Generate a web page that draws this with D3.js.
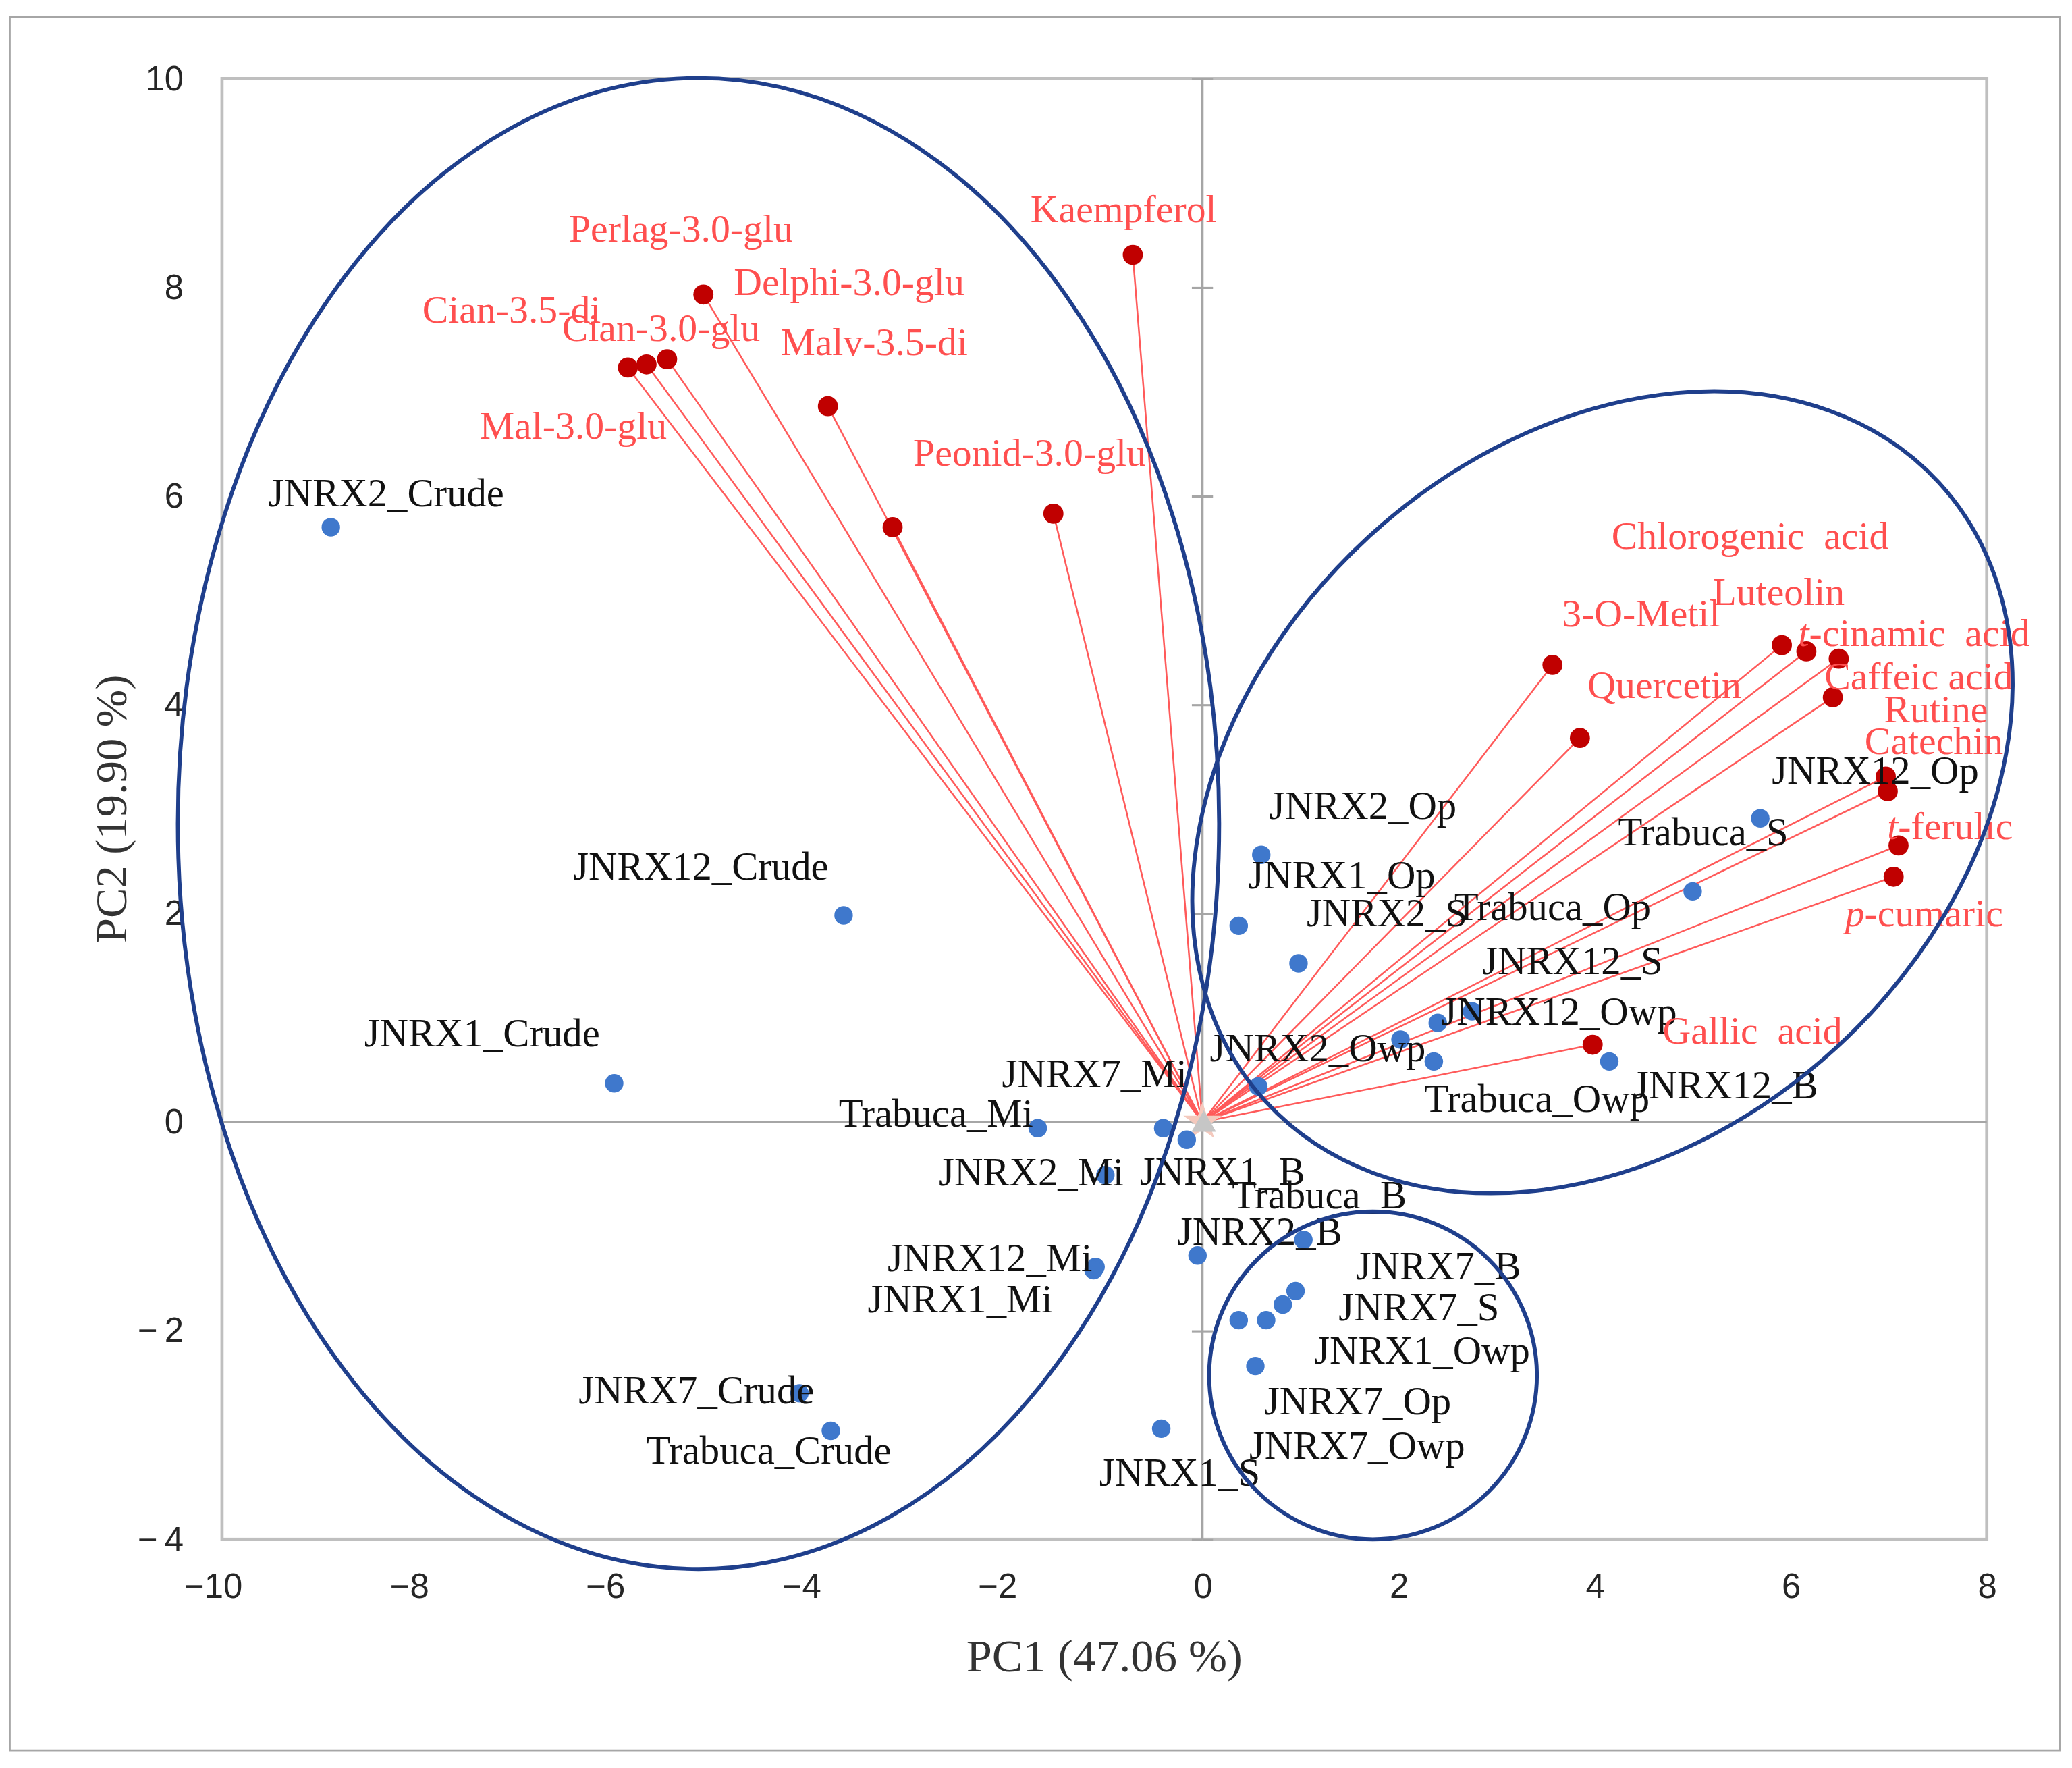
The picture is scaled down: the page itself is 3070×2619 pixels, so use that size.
<!DOCTYPE html>
<html>
<head>
<meta charset="utf-8">
<script src="https://cdn.jsdelivr.net/npm/d3@7"></script>
<style>
html, body { margin: 0; padding: 0; background: #fff; }
</style>
</head>
<body>
<div id="chart"></div>
<script>

// ---- samples (blue) : scores on PC1 / PC2
var sampleNames = ["JNRX2_Crude", "JNRX12_Crude", "JNRX1_Crude", "JNRX7_Crude", "Trabuca_Crude",
	"Trabuca_Mi", "JNRX7_Mi", "JNRX1_B", "JNRX2_Mi", "JNRX12_Mi", "JNRX1_Mi",
	"Trabuca_B", "JNRX2_B", "JNRX7_B", "JNRX7_S", "JNRX1_Owp", "JNRX7_Op", "JNRX7_Owp", "JNRX1_S",
	"JNRX2_Op", "JNRX1_Op", "JNRX2_S", "JNRX12_Op", "Trabuca_S", "Trabuca_Op", "JNRX12_S",
	"JNRX12_Owp", "JNRX2_Owp", "Trabuca_Owp", "JNRX12_B"];
var samplePC1 = [-8.89, -3.66, -6.00, -4.11, -3.79,
	-1.68, -0.40, -0.16, -0.99, -1.09, -1.11,
	1.03, -0.05, 0.95, 0.82, 0.65, 0.37, 0.54, -0.42,
	0.60, 0.37, 0.98, 5.69, 5.00, 2.75, 2.40,
	2.02, 0.57, 2.36, 4.15];
var samplePC2 = [5.70, 1.98, 0.37, -2.60, -2.96,
	-0.06, -0.06, -0.17, -0.51, -1.39, -1.42,
	-1.13, -1.28, -1.62, -1.75, -1.90, -1.90, -2.34, -2.94,
	2.56, 1.88, 1.52, 2.91, 2.21, 1.06, 0.95,
	0.79, 0.34, 0.58, 0.58];

// ---- compounds (red) : loadings on PC1 / PC2
var varNames = ["Kaempferol", "Perlag-3.0-glu", "Delphi-3.0-glu", "Cian-3.5-di", "Cian-3.0-glu",
	"Mal-3.0-glu", "Malv-3.5-di", "Peonid-3.0-glu",
	"3-O-Metil", "Quercetin", "Chlorogenic  acid", "Luteolin", "t-cinamic  acid", "Caffeic acid",
	"Rutine", "Catechin", "t-ferulic", "p-cumaric", "Gallic  acid"];
var varPC1 = [-0.71, -5.09, -3.82, -5.86, -5.67, -5.46, -3.16, -1.52,
	3.57, 3.85, 5.91, 6.16, 6.49, 6.43, 6.97, 6.99, 7.10, 7.05, 3.98];
var varPC2 = [8.31, 7.93, 6.86, 7.23, 7.26, 7.31, 5.70, 5.83,
	4.38, 3.68, 4.57, 4.51, 4.44, 4.07, 3.31, 3.17, 2.65, 2.35, 0.74];

var xTicks = [-10, -8, -6, -4, -2, 0, 2, 4, 6, 8];
var yTicks = [-4, -2, 0, 2, 4, 6, 8, 10];
var xTitle = "PC1 (47.06 %)";
var yTitle = "PC2 (19.90 %)";

// label nudges, in drawing units, from each point to its label centre
var sampleLabelShift = [[42,-26],[-108,-37],[-100,-38],[-78,-2],[-47,15],
	[-77,-11],[-52,-41],[27,24],[-56,-2],[-80,-7],[-101,22],
	[12,-34],[47,-18],[108,-19],[103,2],[118,23],[90,61],[77,60],[14,33],
	[77,-37],[78,-38],[67,-38],[87,-36],[8,-45],[61,-79],[102,-47],
	[120,-21],[45,-29],[78,28],[88,18]];
var varLabelShift = [[-7,-35],[-17,-50],[16,-94],[-88,-44],[11,-28],[-71,50],[-14,-140],[-18,-46],
	[67,-39],[64,-40],[-24,-83],[-21,-45],[57,-20],[65,-16],[38,-51],[35,-38],[39,-15],[23,27],[121,-11]];

// group outlines drawn on the chart: centre in PC units, radii / tilt in drawing units
var groupRings = [
	{pc1: -5.14, pc2: 2.86, rx: 394, ry: 564, tilt: 0},
	{pc1: 4.08, pc2: 3.16, rx: 346, ry: 262, tilt: -42.6},
	{pc1: 1.74, pc2: -2.43, rx: 124, ry: 124, tilt: 0}
];


var W = 1568, H = 1337.6;
var plotL = 168, plotR = 1503.5, plotT = 59.4, plotB = 1164.6;

var svg = d3.select("#chart")
	.append("svg")
	.attr("width", 3070)
	.attr("height", 2619)
	.attr("viewBox", "0 0 " + W + " " + H);

svg.append("rect").attr("width", W).attr("height", H).attr("fill", "#fff");

var x = d3.scaleLinear().domain([-10, 8]).range([plotL, plotR]);
var y = d3.scaleLinear().domain([-4, 10]).range([plotB, plotT]);

var serif = "'Liberation Serif', 'Times New Roman', serif";
var sans = "'Liberation Sans', Arial, sans-serif";

// outer frame
svg.append("rect")
	.attr("x", 7.4).attr("y", 12.8)
	.attr("width", 1558.6 - 7.4).attr("height", 1324.4 - 12.8)
	.attr("fill", "none").attr("stroke", "#a6a6a6").attr("stroke-width", 1.4);

// plot frame
svg.append("rect")
	.attr("x", plotL).attr("y", plotT)
	.attr("width", plotR - plotL).attr("height", plotB - plotT)
	.attr("fill", "none").attr("stroke", "#bfbfbf").attr("stroke-width", 2.4);

// horizontal zero line
svg.append("line")
	.attr("x1", plotL).attr("x2", plotR)
	.attr("y1", y(0)).attr("y2", y(0))
	.attr("stroke", "#a6a6a6").attr("stroke-width", 1.6);

// vertical zero axis with cross ticks
var crossL = svg.append("g").attr("transform", "translate(" + x(0) + ",0)")
	.call(d3.axisLeft(y).tickValues(yTicks).tickSize(8).tickFormat(""));
var crossR = svg.append("g").attr("transform", "translate(" + x(0) + ",0)")
	.call(d3.axisRight(y).tickValues(yTicks).tickSize(8).tickFormat(""));
[crossL, crossR].forEach(function(g) {
	g.selectAll("path,line").attr("stroke", "#a6a6a6").attr("stroke-width", 1.6);
	g.select(".domain").attr("d", "M0," + plotT + "V" + plotB);
});

function fmt(v) {
	return v < 0 ? "\u2212" + Math.abs(v) : "" + v;
}

// y tick labels at the left of the plot
var yAx = svg.append("g").attr("transform", "translate(" + plotL + ",0)")
	.call(d3.axisLeft(y).tickValues(yTicks).tickSize(0).tickPadding(29)
		.tickFormat(function(v) { return v < 0 ? "\u2212\u2009" + Math.abs(v) : "" + v; }));
yAx.select(".domain").remove();
yAx.selectAll("text")
	.attr("font-family", sans).attr("font-size", 26).attr("fill", "#262626");

// x tick labels under the plot
var xAx = svg.append("g").attr("transform", "translate(0," + plotB + ")")
	.call(d3.axisBottom(x).tickValues(xTicks).tickSize(0).tickPadding(26).tickFormat(fmt));
xAx.select(".domain").remove();
xAx.selectAll("text")
	.attr("font-family", sans).attr("font-size", 26).attr("fill", "#262626")
	.attr("dx", function(v) { return v < 0 ? -7 : 0; });

// axis titles
svg.append("text")
	.attr("x", (plotL + plotR) / 2).attr("y", 1253)
	.attr("text-anchor", "middle").attr("dominant-baseline", "central")
	.attr("font-family", serif).attr("font-size", 35).attr("fill", "#333")
	.text(xTitle);
svg.append("text")
	.attr("transform", "translate(84," + ((plotT + plotB) / 2) + ") rotate(-90)")
	.attr("text-anchor", "middle").attr("dominant-baseline", "central")
	.attr("font-family", serif).attr("font-size", 34).attr("fill", "#333")
	.text(yTitle);

// loading vectors from the origin
svg.append("g").selectAll("line")
	.data(varNames)
	.enter().append("line")
	.attr("x1", x(0)).attr("y1", y(0))
	.attr("x2", function(d, i) { return x(varPC1[i]); })
	.attr("y2", function(d, i) { return y(varPC2[i]); })
	.attr("stroke", "#ff5a5a").attr("stroke-width", 1.3);

// origin marker
svg.append("path")
	.attr("transform", "translate(" + x(0) + "," + y(0) + ")")
	.attr("d", d3.symbol().type(d3.symbolStar).size(260)())
	.attr("fill", "#f4c9bd");
svg.append("path")
	.attr("transform", "translate(" + (x(0) + 1) + "," + (y(0) + 2) + ")")
	.attr("d", d3.symbol().type(d3.symbolTriangle).size(150)())
	.attr("fill", "#c6c6c6");

// sample points
svg.append("g").selectAll("circle")
	.data(sampleNames)
	.enter().append("circle")
	.attr("cx", function(d, i) { return x(samplePC1[i]); })
	.attr("cy", function(d, i) { return y(samplePC2[i]); })
	.attr("r", 7)
	.attr("fill", "#3f78cc");

// compound points
svg.append("g").selectAll("circle")
	.data(varNames)
	.enter().append("circle")
	.attr("cx", function(d, i) { return x(varPC1[i]); })
	.attr("cy", function(d, i) { return y(varPC2[i]); })
	.attr("r", 7.6)
	.attr("fill", "#c00000");

// sample labels
svg.append("g").selectAll("text")
	.data(sampleNames)
	.enter().append("text")
	.attr("x", function(d, i) { return x(samplePC1[i]) + sampleLabelShift[i][0]; })
	.attr("y", function(d, i) { return y(samplePC2[i]) + sampleLabelShift[i][1]; })
	.attr("text-anchor", "middle").attr("dominant-baseline", "central")
	.attr("font-family", serif).attr("font-size", 30).attr("fill", "#111")
	.text(function(d) { return d; });

// compound labels (t- and p- prefixes in italic)
var vl = svg.append("g").selectAll("text")
	.data(varNames)
	.enter().append("text")
	.attr("x", function(d, i) { return x(varPC1[i]) + varLabelShift[i][0]; })
	.attr("y", function(d, i) { return y(varPC2[i]) + varLabelShift[i][1]; })
	.attr("text-anchor", "middle").attr("dominant-baseline", "central")
	.attr("font-family", serif).attr("font-size", 29.5).attr("fill", "#ff4f4f")
	.style("white-space", "pre");
vl.each(function(d) {
	var t = d3.select(this);
	if (/^[tp]-/.test(d)) {
		t.append("tspan").attr("font-style", "italic").text(d.charAt(0));
		t.append("tspan").text(d.slice(1));
	} else {
		t.text(d);
	}
});

// group outlines
svg.append("g").selectAll("ellipse")
	.data(groupRings)
	.enter().append("ellipse")
	.attr("transform", function(d) {
		return "translate(" + x(d.pc1) + "," + y(d.pc2) + ") rotate(" + d.tilt + ")";
	})
	.attr("rx", function(d) { return d.rx; })
	.attr("ry", function(d) { return d.ry; })
	.attr("fill", "none")
	.attr("stroke", "#1f3f8c").attr("stroke-width", 3);

</script>
</body>
</html>
